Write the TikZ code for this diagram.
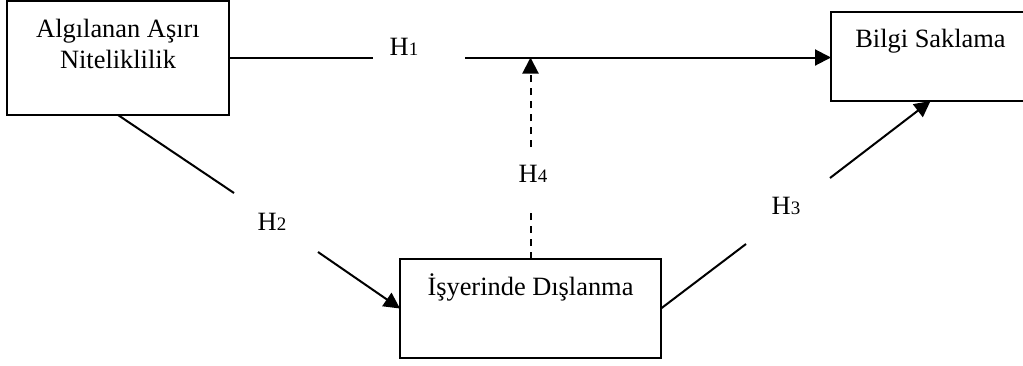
\documentclass[tikz,border=0pt]{standalone}
\usepackage{fontspec}
\setmainfont{Liberation Serif}
\usetikzlibrary{arrows.meta}
\tikzset{
  boxnode/.style={draw, line width=2pt, inner sep=0pt, outer sep=0pt,
    font=\fontsize{26.4}{31}\selectfont},
  hyp/.style={anchor=base, inner sep=0pt, font=\fontsize{26.4}{31}\selectfont},
  conn/.style={line width=2pt},
  arr/.style={conn, -{Triangle[length=16pt,width=16pt]}},
  dsh/.style={dash pattern=on 7pt off 6pt},
}
\newcommand{\hyptext}[1]{H{\fontsize{19}{19}\selectfont #1}}
\newcommand{\boxtext}[4]{\parbox[c][#2][t]{#1}{\centering\rule{0pt}{#3}#4}}
\begin{document}
\begin{tikzpicture}[x=1pt,y=-1pt]
\useasboundingbox (0,0) rectangle (1023,365);
% boxes
\node[boxnode] (A) at (118,58) {\boxtext{222pt}{114pt}{36pt}{Algılanan Aşırı\\Niteliklilik}};
\node[boxnode] (B) at (930.5,56.5) {\boxtext{199pt}{89pt}{35pt}{Bilgi Saklama}};
\node[boxnode] (D) at (530.5,308.5) {\boxtext{261pt}{99pt}{36pt}{İşyerinde Dışlanma}};
% labels
\node[hyp] (L1) at (404,55) {\hyptext{1}};
\node[hyp] (L2) at (272,230) {\hyptext{2}};
\node[hyp] (L3) at (786,214) {\hyptext{3}};
\node[hyp] (L4) at (533,182) {\hyptext{4}};
% gap coordinates
\coordinate (h1a) at (373,57.5);
\coordinate (h1b) at (465,57.5);
\coordinate (h2a) at (234,193);
\coordinate (h2b) at (318,252);
\coordinate (h3a) at (746,244);
\coordinate (h3b) at (830,178);
\coordinate (h4a) at (530.5,213);
\coordinate (h4b) at (530.5,147);
\coordinate (h4t) at (530.5,57.5);
% H1
\draw[conn] (h1a -| A.east) -- (h1a);
\draw[arr] (h1b) -- (h1b -| B.west);
% H2
\draw[conn] (A.south) -- (h2a);
\draw[arr] (h2b) -- (D.west);
% H3
\draw[conn] (D.east) -- (h3a);
\draw[arr] (h3b) -- (B.south);
% H4
\draw[conn,dsh] (D.north) -- (h4a);
\draw[arr,dsh] (h4b) -- (h4t);
\end{tikzpicture}
\end{document}
